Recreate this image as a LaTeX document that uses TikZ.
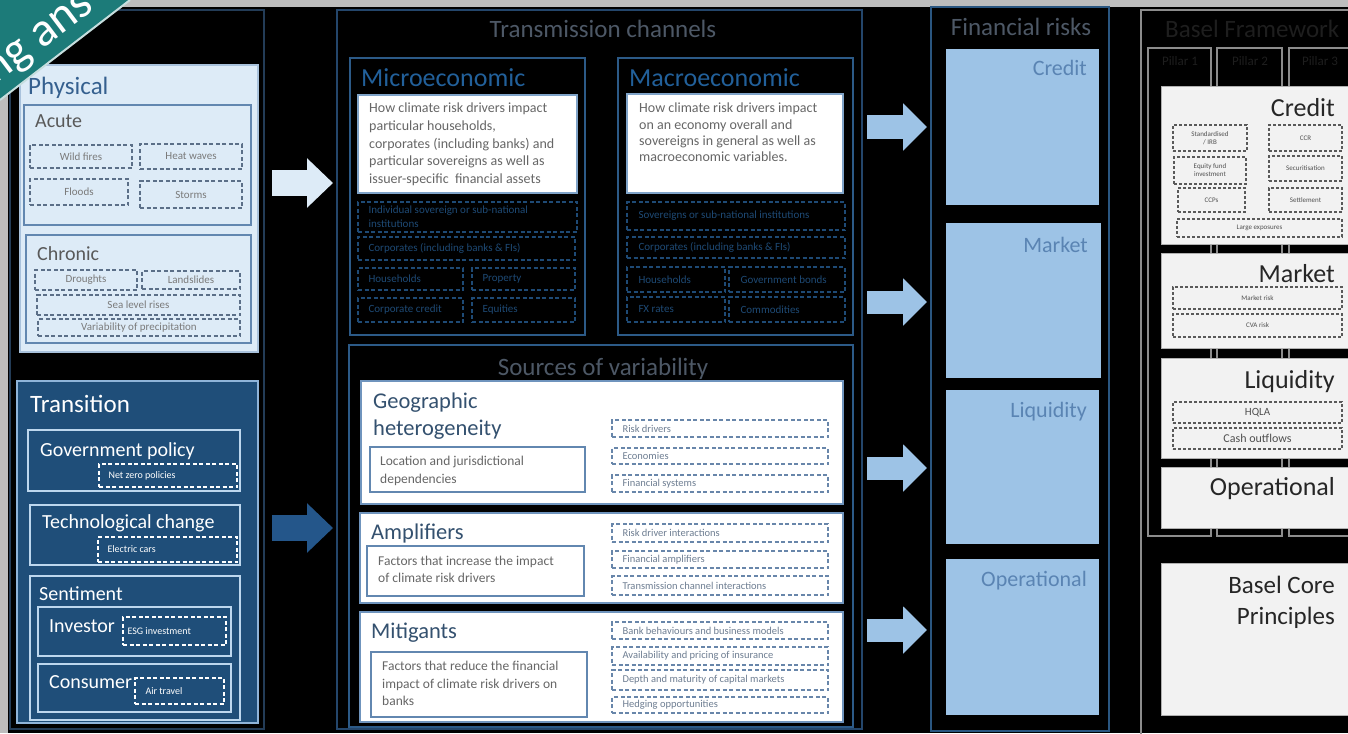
\documentclass[tikz,border=0pt]{standalone}
\usepackage{fontspec}
\setmainfont{Carlito}
\usetikzlibrary{fit,arrows.meta}
\definecolor{stripgray}{HTML}{BDBDBD}
\definecolor{bannerteal}{HTML}{1C7B79}
\definecolor{leftframe}{HTML}{233C57}
\definecolor{physfill}{HTML}{DDEBF7}
\definecolor{physline}{HTML}{A9C2DC}
\definecolor{subline}{HTML}{6287B0}
\definecolor{phystitle}{HTML}{35608F}
\definecolor{graytxt}{HTML}{595959}
\definecolor{pdash}{HTML}{5B6F88}
\definecolor{pdtxt}{HTML}{7A7A7A}
\definecolor{transfill}{HTML}{1F4E79}
\definecolor{transline}{HTML}{8FB4D9}
\definecolor{transsub}{HTML}{BDD7EE}
\definecolor{tcframe}{HTML}{24466B}
\definecolor{dimtitle}{HTML}{4D5866}
\definecolor{microline}{HTML}{2C5A87}
\definecolor{microtitle}{HTML}{22609A}
\definecolor{microdash}{HTML}{1E4A75}
\definecolor{whiteline}{HTML}{7FA3C8}
\definecolor{bodytxt}{HTML}{666666}
\definecolor{srcline}{HTML}{6F94BD}
\definecolor{srctitle}{HTML}{34516F}
\definecolor{srcdash}{HTML}{6886AA}
\definecolor{srcdtxt}{HTML}{6E7E92}
\definecolor{riskframe}{HTML}{2A5680}
\definecolor{riskfill}{HTML}{9DC3E6}
\definecolor{risktxt}{HTML}{5A84B3}
\definecolor{darkarrow}{HTML}{24568A}
\definecolor{baselframe}{HTML}{8C8C8C}
\definecolor{baselfill}{HTML}{F2F2F2}
\definecolor{baselline}{HTML}{B0B0B0}
\definecolor{baseltxt}{HTML}{262626}
\definecolor{baseldash}{HTML}{595959}
\definecolor{baseldtxt}{HTML}{505050}
\definecolor{faint}{HTML}{1E1E1E}
\newcommand\fsz[2]{\fontsize{#1}{#2}\selectfont}
\newcommand\B[6][]{\node[#2,fit={(#4)(#5)},inner sep=0pt] (#3) {};\node[#2,draw=none,fill=none,inner sep=0pt,#1] (#3t) at (#3.center) {#6};}
\newcommand\BL[7][]{\node[#2,fit={(#4)(#5)},inner sep=0pt] (#3) {};\node[#1,anchor=west,align=left,inner sep=0pt] (#3t) at ([xshift=#6pt]#3.west) {#7};}
\begin{document}
\begin{tikzpicture}[x=1pt,y=-1pt,
  tnode/.style={inner sep=0pt,anchor=base west},
  tright/.style={inner sep=0pt,anchor=base east},
  dpat/.style={dash pattern=on 4pt off 2.5pt,line width=1.3pt},
  pd/.style={draw=pdash,dpat,font=\fsz{11}{13},text=pdtxt,align=center},
  td/.style={draw=white,dpat},
  md/.style={draw=microdash,dpat},
  sd/.style={draw=srcdash,dpat},
  bd/.style={draw=baseldash,dash pattern=on 3pt off 2pt,line width=1.1pt,font=\fsz{7}{8},text=baseldtxt,align=center},
  tsub/.style={draw=transsub,line width=1.5pt},
  whitebox/.style={draw=whiteline,fill=white,line width=1.5pt},
  srcbox/.style={draw=srcline,fill=white,line width=1.5pt},
  innerbox/.style={draw=subline,fill=white,line width=1.5pt},
  riskbox/.style={fill=riskfill},
  baselbox/.style={draw=baselline,fill=baselfill,line width=1pt},
  bcol/.style={draw=baselframe,line width=1.5pt},
  bigarrow/.style={line width=#1,-{Triangle[length=26pt,width=48pt]}},
  riskarrow/.style={riskfill,line width=23pt,-{Triangle[length=24pt,width=46pt]}}
]
\useasboundingbox (0,0) rectangle (1348,733);
\begin{scope}
\clip (0,0) rectangle (1348,733);
\fill[black] (0,0) rectangle (1348,733);
\fill[stripgray] (0,0) rectangle (1348,7);
\fill[stripgray] (0,0) rectangle (8,733);

% ---------------- left column ----------------
\node[draw=leftframe,line width=1.5pt,fit={(10,10)(264,729)},inner sep=0pt] (leftcol) {};
\node[draw=physline,fill=physfill,line width=1.5pt,fit={(20,65)(258,352)},inner sep=0pt] (phys) {};
\node[tnode,text=phystitle,font=\fsz{25}{30}] (physT) at (28,95) {Physical};
\node[draw=subline,fill=physfill,line width=1.5pt,fit={(24,105)(251,225)},inner sep=0pt] (acute) {};
\node[tnode,text=graytxt,font=\fsz{20}{24}] (acuteT) at (35,128) {Acute};
\B{pd}{wild}{30,145}{132,168}{Wild fires}
\B{pd}{heat}{140,144}{242,169}{Heat waves}
\B{pd}{flood}{30,179}{128,205}{Floods}
\B{pd}{storm}{140,181}{242,208}{Storms}
\node[draw=subline,fill=physfill,line width=1.5pt,fit={(26,235)(251,343)},inner sep=0pt] (chronic) {};
\node[tnode,text=graytxt,font=\fsz{20}{24}] (chronicT) at (37,260) {Chronic};
\B{pd}{drought}{35,270}{137,290}{Droughts}
\B{pd}{landslide}{142,271}{240,289}{Landslides}
\B{pd}{sea}{37,295}{240,315}{Sea level rises}
\B{pd}{precip}{38,319}{240,336}{Variability of precipitation}

\node[draw=transline,fill=transfill,line width=1.5pt,fit={(17,381)(258,723)},inner sep=0pt] (trans) {};
\node[tnode,text=white,font=\fsz{25}{30}] (transT) at (30,412) {Transition};
\node[tsub,fit={(28,430)(240,491)},inner sep=0pt] (gov) {};
\node[tnode,text=white,font=\fsz{20}{24}] (govT) at (40,456) {Government policy};
\BL[font=\fsz{10}{12},text=white]{td}{netzero}{99,464}{237,487}{10}{Net zero policies}
\node[tsub,fit={(30,505)(240,565)},inner sep=0pt] (tech) {};
\node[tnode,text=white,font=\fsz{20}{24}] (techT) at (42,528) {Technological change};
\BL[font=\fsz{10}{12},text=white]{td}{elec}{98,537}{237,562}{10}{Electric cars}
\node[tsub,fit={(30,576)(240,720)},inner sep=0pt] (sent) {};
\node[tnode,text=white,font=\fsz{20}{24}] (sentT) at (39,600) {Sentiment};
\node[tsub,fit={(38,607)(231,656)},inner sep=0pt] (inv) {};
\node[tnode,text=white,font=\fsz{20}{24}] (invT) at (49,632) {Investor};
\BL[font=\fsz{10}{12},text=white]{td}{esg}{123,617}{226,645}{5}{ESG investment}
\node[tsub,fit={(38,664)(231,712)},inner sep=0pt] (cons) {};
\node[tnode,text=white,font=\fsz{20}{24}] (consT) at (49,688) {Consumer};
\BL[font=\fsz{10}{12},text=white]{td}{air}{135,678}{224,704}{11}{Air travel}

% arrows left -> transmission
\coordinate (pa1) at (272,183); \coordinate (pa2) at (333,183);
\draw[physfill,bigarrow=26pt] (pa1) -- (pa2);
\coordinate (ta1) at (272,528); \coordinate (ta2) at (333,528);
\draw[darkarrow,bigarrow=26pt] (ta1) -- (ta2);

% ---------------- transmission channels ----------------
\node[draw=tcframe,line width=1.5pt,fit={(337,10)(862,729)},inner sep=0pt] (tc) {};
\node[inner sep=0pt,anchor=base,text=dimtitle,font=\fsz{25}{30}] (tcT) at (603,38) {Transmission channels};

\node[draw=microline,line width=1.5pt,fit={(350,58)(585,335)},inner sep=0pt] (micro) {};
\node[tnode,text=microtitle,font=\fsz{26}{30}] (microT) at (361,87) {Microeconomic};
\node[whitebox,fit={(358,95)(577,193)},inner sep=0pt] (microW) {};
\begin{scope}[every node/.style={tnode,text=bodytxt,font=\fsz{14}{17}}]
\node (mi1) at (369,113) {How climate risk drivers impact};
\node (mi2) at (369,130.5) {particular households,};
\node (mi3) at (369,148) {corporates (including banks) and};
\node (mi4) at (369,165.5) {particular sovereigns as well as};
\node (mi5) at (369,183) {issuer-specific\ \ financial assets};
\end{scope}
\BL[font=\fsz{11}{14},text=microdash]{md}{indiv}{358,202}{577,232}{11}{Individual sovereign or sub-national\\institutions}
\BL[font=\fsz{11}{14},text=microdash]{md}{corpA}{358,237}{575,260}{11}{Corporates (including banks \& FIs)}
\BL[font=\fsz{11}{14},text=microdash]{md}{hhA}{358,268}{463,290}{11}{Households}
\BL[font=\fsz{11}{14},text=microdash]{md}{prop}{472,268}{575,290}{11}{Property}
\BL[font=\fsz{11}{14},text=microdash]{md}{ccred}{358,298}{463,322}{11}{Corporate credit}
\BL[font=\fsz{11}{14},text=microdash]{md}{equit}{472,298}{575,322}{11}{Equities}

\node[draw=microline,line width=1.5pt,fit={(618,58)(853,335)},inner sep=0pt] (macro) {};
\node[tnode,text=microtitle,font=\fsz{26}{30}] (macroT) at (629,87) {Macroeconomic};
\node[whitebox,fit={(627,94)(843,193)},inner sep=0pt] (macroW) {};
\begin{scope}[every node/.style={tnode,text=bodytxt,font=\fsz{14}{17}}]
\node (ma1) at (639,113) {How climate risk drivers impact};
\node (ma2) at (639,129) {on an economy overall and};
\node (ma3) at (639,145) {sovereigns in general as well as};
\node (ma4) at (639,161) {macroeconomic variables.};
\end{scope}
\BL[font=\fsz{11}{14},text=microdash]{md}{sov}{627,202}{845,230}{12}{Sovereigns or sub-national institutions}
\BL[font=\fsz{11}{14},text=microdash]{md}{corpB}{627,237}{845,258}{12}{Corporates (including banks \& FIs)}
\BL[font=\fsz{11}{14},text=microdash]{md}{hhB}{627,267}{725,292}{12}{Households}
\BL[font=\fsz{11}{14},text=microdash]{md}{gbond}{729,267}{845,292}{12}{Government bonds}
\BL[font=\fsz{11}{14},text=microdash]{md}{fxr}{627,297}{725,322}{12}{FX rates}
\BL[font=\fsz{11}{14},text=microdash]{md}{comm}{729,297}{845,322}{12}{Commodities}

% ---------------- sources of variability ----------------
\node[draw=microline,line width=1.5pt,fit={(349,345)(853,727)},inner sep=0pt] (src) {};
\node[inner sep=0pt,anchor=base,text=dimtitle,font=\fsz{25}{30}] (srcT) at (603,375) {Sources of variability};

\node[srcbox,fit={(361,381)(843,504)},inner sep=0pt] (geo) {};
\node[tnode,text=srctitle,font=\fsz{22.5}{27}] (geoT1) at (373,408) {Geographic};
\node[tnode,text=srctitle,font=\fsz{22.5}{27}] (geoT2) at (373,435) {heterogeneity};
\node[innerbox,fit={(370,447)(585,492)},inner sep=0pt] (geoD) {};
\node[tnode,text=bodytxt,font=\fsz{13.5}{16}] (geo1) at (380,465) {Location and jurisdictional};
\node[tnode,text=bodytxt,font=\fsz{13.5}{16}] (geo2) at (380,483) {dependencies};
\BL[font=\fsz{10.5}{13},text=srcdtxt]{sd}{rdr}{612,420}{828,437}{11}{Risk drivers}
\BL[font=\fsz{10.5}{13},text=srcdtxt]{sd}{econ}{612,448}{828,464}{11}{Economies}
\BL[font=\fsz{10.5}{13},text=srcdtxt]{sd}{finsys}{612,475}{828,492}{11}{Financial systems}

\node[srcbox,fit={(360,513)(843,603)},inner sep=0pt] (amp) {};
\node[tnode,text=srctitle,font=\fsz{22.5}{27}] (ampT) at (371,539) {Amplifiers};
\node[innerbox,fit={(367,546)(584,596)},inner sep=0pt] (ampD) {};
\node[tnode,text=bodytxt,font=\fsz{13.5}{16}] (amp1) at (378,565) {Factors that increase the impact};
\node[tnode,text=bodytxt,font=\fsz{13.5}{16}] (amp2) at (378,582) {of climate risk drivers};
\BL[font=\fsz{10.5}{13},text=srcdtxt]{sd}{rdi}{612,524}{828,542}{11}{Risk driver interactions}
\BL[font=\fsz{10.5}{13},text=srcdtxt]{sd}{famp}{612,551}{828,568}{11}{Financial amplifiers}
\BL[font=\fsz{10.5}{13},text=srcdtxt]{sd}{tci}{612,576}{828,595}{11}{Transmission channel interactions}

\node[srcbox,fit={(360,612)(843,722)},inner sep=0pt] (mit) {};
\node[tnode,text=srctitle,font=\fsz{22.5}{27}] (mitT) at (371,638) {Mitigants};
\node[innerbox,fit={(371,652)(587,717)},inner sep=0pt] (mitD) {};
\node[tnode,text=bodytxt,font=\fsz{13.5}{16}] (mit1) at (382,670) {Factors that reduce the financial};
\node[tnode,text=bodytxt,font=\fsz{13.5}{16}] (mit2) at (382,688) {impact of climate risk drivers on};
\node[tnode,text=bodytxt,font=\fsz{13.5}{16}] (mit3) at (382,705) {banks};
\BL[font=\fsz{10.5}{13},text=srcdtxt]{sd}{bbb}{612,622}{828,639}{11}{Bank behaviours and business models}
\BL[font=\fsz{10.5}{13},text=srcdtxt]{sd}{api}{612,647}{828,665}{11}{Availability and pricing of insurance}
\BL[font=\fsz{10.5}{13},text=srcdtxt]{sd}{dmc}{612,670}{828,690}{11}{Depth and maturity of capital markets}
\BL[font=\fsz{10.5}{13},text=srcdtxt]{sd}{hedge}{612,697}{828,713}{11}{Hedging opportunities}

% ---------------- financial risks ----------------
\node[draw=riskframe,line width=1.5pt,fit={(931,7)(1109,731)},inner sep=0pt] (fr) {};
\node[inner sep=0pt,anchor=base,text=dimtitle,font=\fsz{25}{30}] (frT) at (1021,36) {Financial risks};
\node[riskbox,fit={(946,49)(1099,205)},inner sep=0pt] (rcred) {};
\node[riskbox,fit={(946,223)(1101,378)},inner sep=0pt] (rmkt) {};
\node[riskbox,fit={(946,390)(1099,544)},inner sep=0pt] (rliq) {};
\node[riskbox,fit={(946,559)(1099,715)},inner sep=0pt] (rop) {};
\node[tright,text=risktxt,font=\fsz{22}{26}] (rcredT) at (1087,76) {Credit};
\node[tright,text=risktxt,font=\fsz{22}{26}] (rmktT) at (1088,252) {Market};
\node[tright,text=risktxt,font=\fsz{22}{26}] (rliqT) at (1087,417) {Liquidity};
\node[tright,text=risktxt,font=\fsz{22}{26}] (ropT) at (1087,586) {Operational};

\foreach \yy/\nm in {127/a,302/b,468/c,630/d}{
  \coordinate (rs\nm) at (867,\yy); \coordinate (re\nm) at (927,\yy);
  \draw[riskarrow] (rs\nm) -- (re\nm);
}

% ---------------- Basel framework ----------------
\node[bcol,fit={(1141,10)(1370,750)},inner sep=0pt] (basel) {};
\node[tnode,text=faint,font=\fsz{25}{30}] (baselT) at (1165,38) {Basel Framework};
\node[bcol,fit={(1148,48)(1211,536)},inner sep=0pt] (col1) {};
\node[bcol,fit={(1217,48)(1282,536)},inner sep=0pt] (col2) {};
\node[bcol,fit={(1289,48)(1370,536)},inner sep=0pt] (col3) {};
\node[inner sep=0pt,anchor=base,text=faint,font=\fsz{13}{15}] (c1T) at (1180,66) {Pillar 1};
\node[inner sep=0pt,anchor=base,text=faint,font=\fsz{13}{15}] (c2T) at (1250,66) {Pillar 2};
\node[inner sep=0pt,anchor=base,text=faint,font=\fsz{13}{15}] (c3T) at (1320,66) {Pillar 3};

\node[baselbox,fit={(1161,87)(1370,244)},inner sep=0pt] (bcred) {};
\node[baselbox,fit={(1161,253)(1370,348)},inner sep=0pt] (bmkt) {};
\node[baselbox,fit={(1161,358)(1370,458)},inner sep=0pt] (bliq) {};
\node[baselbox,fit={(1161,467)(1370,528)},inner sep=0pt] (bop) {};
\node[baselbox,fit={(1161,563)(1370,715)},inner sep=0pt] (bcp) {};
\node[tright,text=baseltxt,font=\fsz{26}{30}] (bcredT) at (1335,117) {Credit};
\node[tright,text=baseltxt,font=\fsz{26}{30}] (bmktT) at (1335,282) {Market};
\node[tright,text=baseltxt,font=\fsz{26}{30}] (bliqT) at (1335,388) {Liquidity};
\node[tright,text=baseltxt,font=\fsz{26}{30}] (bopT) at (1335,495) {Operational};
\node[tright,text=baseltxt,font=\fsz{25}{30}] (bcp1) at (1335,593) {Basel Core};
\node[tright,text=baseltxt,font=\fsz{25}{30}] (bcp2) at (1335,624) {Principles};
\B{bd}{std}{1173,125}{1247,151}{Standardised\\/ IRB}
\B{bd}{ccr}{1269,125}{1342,151}{CCR}
\B{bd}{efi}{1174,157}{1246,184}{Equity fund\\investment}
\B{bd}{secur}{1269,156}{1342,181}{Securitisation}
\B{bd}{ccps}{1178,188}{1245,212}{CCPs}
\B{bd}{settle}{1269,188}{1342,212}{Settlement}
\B{bd}{large}{1177,219}{1342,237}{Large exposures}
\B{bd}{mrisk}{1173,287}{1342,309}{Market risk}
\B{bd}{cva}{1173,314}{1342,337}{CVA risk}
\B[font=\fsz{11}{13}]{bd}{hqla}{1173,402}{1342,423}{HQLA}
\B[font=\fsz{12}{14}]{bd}{cash}{1173,428}{1342,449}{Cash outflows}

% ---------------- corner banner ----------------
\fill[bannerteal] (0,0) -- (130,0) -- (0,100) -- cycle;
\draw[white!75!bannerteal,line width=2pt] (130,0) -- (0,100);
\begin{scope}
\clip (0,0) -- (130,0) -- (0,100) -- cycle;
\node[rotate=37,text=white,font=\fsz{48}{56},inner sep=0pt] (banner) at (34,40) {ing ans};
\end{scope}
\end{scope}
\end{tikzpicture}
\end{document}
